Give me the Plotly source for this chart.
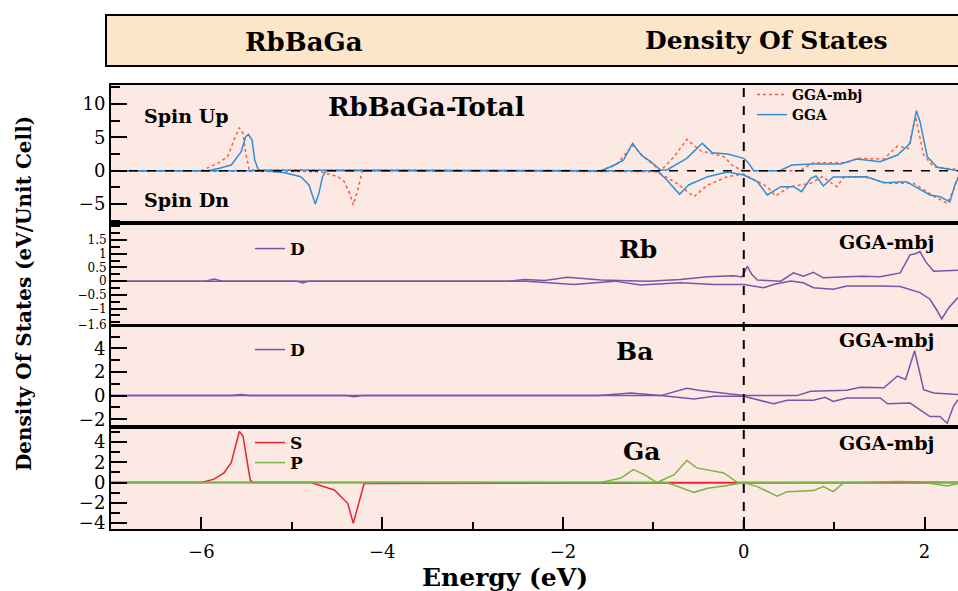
import plotly.graph_objects as go

# ---------------- data ----------------
# Panel 1: total DOS (GGA vs GGA-mbj), spin up (+) and spin down (-)
gga_up_E = [-7.0, -5.93, -5.80, -5.67, -5.56, -5.51, -5.48, -5.44, -5.41, -5.37, -1.58, -1.45, -1.33, -1.23, -1.13,
            -1.03, -0.92, -0.85, -0.75, -0.63, -0.46, -0.35, -0.18, 0.00, 0.05, 0.11, 0.40, 0.53, 0.77, 1.07, 1.25,
            1.51, 1.70, 1.84, 1.91, 1.95, 2.03, 2.14, 2.37]
gga_up = [0, 0, 0.35, 0.85, 2.85, 5.1, 5.45, 4.6, 1.6, 0.1, 0, 0.7, 1.6, 4.1, 2.3,
          1.35, 0.1, 0.1, 0.9, 1.85, 4.1, 2.7, 2.5, 1.85, 1.2, 0, 0, 0.85, 1.0, 1.0, 1.75,
          1.35, 2.35, 4.1, 9.0, 7.35, 2.1, 0.5, 0]

mbj_up_E = [-7.0, -6.00, -5.82, -5.71, -5.64, -5.58, -5.54, -5.51, -5.47, -1.58, -1.40, -1.23, -1.10, -0.97, -0.92,
            -0.77, -0.63, -0.48, -0.22, -0.11, 0.00, 0.62, 0.77, 1.14, 1.25, 1.55, 1.70, 1.82, 1.90, 1.99, 2.10, 2.37]
mbj_up = [0, 0, 1.1, 2.1, 4.6, 6.45, 5.6, 2.6, 0.1, 0, 1.0, 3.8, 2.0, 0.5, 0,
          2.1, 4.7, 3.0, 2.1, 0.6, 0, 0, 1.2, 1.2, 1.85, 1.75, 3.7, 3.3, 8.1, 2.35, 0.6, 0.15]

gga_dn_E = [-7.0, -5.30, -5.08, -4.90, -4.81, -4.74, -4.70, -4.66, -4.62, -0.96, -0.85, -0.71, -0.61, -0.40, -0.18,
            0.00, 0.15, 0.26, 0.41, 0.55, 0.64, 0.74, 0.80, 0.88, 0.99, 1.14, 1.36, 1.55, 1.80, 2.06, 2.17, 2.28,
            2.34, 2.37]
gga_dn = [0, 0, -0.3, -0.9, -2.15, -5.0, -3.4, -0.9, 0, 0, -1.4, -3.55, -2.15, -0.9, -0.2,
          -0.65, -1.65, -3.65, -2.4, -2.4, -3.15, -1.15, -0.8, -2.3, -0.95, -0.9, -0.9, -1.8, -1.65, -3.65, -3.9, -4.7,
          -1.95, -1.2]

mbj_dn_E = [-7.0, -4.68, -4.49, -4.42, -4.36, -4.32, -4.27, -4.24, -4.22, -0.96, -0.74, -0.55, -0.40, -0.18, 0.00,
            0.26, 0.35, 0.51, 0.74, 0.87, 1.03, 1.11, 1.33, 1.59, 1.88, 2.10, 2.25, 2.32, 2.37]
mbj_dn = [0, -0.15, -0.9, -1.65, -3.4, -5.15, -2.9, -0.9, 0, -0.15, -1.9, -3.9, -2.15, -0.9, -0.5,
          -2.4, -3.8, -2.4, -1.9, -0.9, -2.4, -0.95, -0.9, -1.9, -1.9, -3.8, -4.9, -2.9, -0.95]

# Panel 2: Rb d-states
rb_up_E = [-7.0, -5.95, -5.86, -5.77, -2.60, -2.43, -2.20, -1.95, -1.58, -1.06, -0.70, -0.40, -0.11, -0.02, 0.04,
           0.09, 0.15, 0.41, 0.55, 0.66, 0.77, 0.88, 1.14, 1.32, 1.51, 1.73, 1.84, 1.90, 1.95, 2.01, 2.10, 2.37]
rb_up = [0, 0, 0.08, 0, 0, 0.06, 0.02, 0.14, 0.04, 0, 0.06, 0.16, 0.2, 0.15, 0.54,
         0.24, 0.04, 0, 0.3, 0.18, 0.32, 0.12, 0.16, 0.18, 0.16, 0.3, 0.96, 1.0, 1.08, 0.72, 0.36, 0.4]
rb_dn_E = [-7.0, -4.95, -4.88, -4.81, -2.40, -2.20, -1.88, -1.43, -1.14, -0.70, -0.33, 0.00, 0.22, 0.33, 0.52,
           0.66, 0.77, 0.99, 1.14, 1.51, 1.73, 1.95, 2.06, 2.14, 2.19, 2.27, 2.37]
rb_dn = [0, 0, -0.07, 0, 0, -0.04, -0.12, 0, -0.14, -0.06, -0.12, -0.12, -0.24, -0.12, 0,
         -0.06, -0.24, -0.3, -0.18, -0.18, -0.2, -0.42, -0.66, -1.08, -1.38, -0.96, -0.6]

# Panel 3: Ba d-states
ba_up_E = [-7.0, -5.65, -5.56, -5.47, -1.60, -1.25, -0.92, -0.63, -0.48, -0.18, 0.00, 0.59, 0.74, 1.14, 1.29,
           1.55, 1.70, 1.79, 1.89, 1.99, 2.10, 2.37]
ba_up = [0, 0, 0.1, 0, 0, 0.23, 0, 0.63, 0.43, 0.17, 0, 0, 0.37, 0.46, 0.71,
         0.66, 1.66, 1.37, 3.8, 0.51, 0.23, 0.1]
ba_dn_E = [-7.0, -4.40, -4.31, -4.22, -0.92, -0.55, -0.33, 0.00, 0.33, 0.48, 0.77, 0.90, 0.99, 1.14, 1.51,
           1.59, 1.84, 2.06, 2.17, 2.25, 2.32, 2.37]
ba_dn = [0, 0, -0.1, 0, 0, -0.29, -0.06, -0.06, -0.69, -0.4, -0.4, -0.14, -0.49, -0.2, -0.2,
         -0.69, -0.63, -1.77, -1.77, -2.34, -0.91, -0.34]

# Panel 4: Ga s- and p-states
gas_up_E = [-7.0, -6.00, -5.86, -5.75, -5.67, -5.62, -5.58, -5.54, -5.49, -5.46, -5.43, 2.37]
gas_up = [0, 0, 0.34, 0.95, 1.96, 3.64, 5.05, 4.6, 1.96, 0.27, 0, 0]
gas_dn_E = [-7.0, -4.79, -4.53, -4.38, -4.32, -4.25, -4.20, 2.37]
gas_dn = [0, 0, -0.74, -2.08, -4.04, -1.7, -0.1, 0]
gap_up_E = [-7.0, -1.58, -1.36, -1.22, -1.10, -0.96, -0.77, -0.63, -0.52, -0.22, -0.07, 1.30, 1.70, 2.10, 2.37]
gap_up = [0, 0, 0.44, 1.28, 0.78, 0, 0.78, 2.19, 1.45, 0.95, 0, 0, 0.1, 0, 0]
gap_dn_E = [-7.0, -0.85, -0.55, -0.40, -0.18, 0.00, 0.15, 0.37, 0.48, 0.77, 0.88, 0.99, 1.10, 2.06, 2.25, 2.37]
gap_dn = [0, 0, -0.97, -0.57, -0.3, 0, -0.4, -1.35, -0.9, -0.8, -0.4, -0.9, -0.07, -0.07, -0.34, -0.1]

x_ticks = [-6, -4, -2, 0, 2]
rb_tickvals = [1.5, 1, 0.5, 0, -0.5, -1, -1.6]
rb_ticktext = ["1.5", "1", "0.5", "0", "\u22120.5", "\u22121", "\u22121.6"]

# ---------------- styling ----------------
W, H = 958, 591
FONT = "DejaVu Serif, serif"
BG = "#fde9e3"
BLUE = "#2f8fd6"
RED = "#ff5a36"
PURPLE = "#7656a6"
SRED = "#e8242b"
GREEN = "#78b444"

def py(p):  # pixel row -> paper y
    return 1 - p / H

def px(p):
    return p / W

X0 = px(111)
dom1 = [py(223), py(85)]
dom2 = [py(325), py(223)]
dom3 = [py(427), py(326)]
dom4 = [py(529), py(427)]

fig = go.Figure()

def add(x, y, xa, ya, color, name, dash="solid", legend="legend", show=True, group=None):
    fig.add_trace(go.Scatter(x=x, y=y, mode="lines", xaxis=xa, yaxis=ya, name=name,
                             line=dict(color=color, width=1.5, dash=dash),
                             legend=legend, showlegend=show, legendgroup=group or name))

add(mbj_up_E, mbj_up, "x2", "y", RED, "<b>GGA-mbj</b>", dash="dot", legend="legend")
add(mbj_dn_E, mbj_dn, "x2", "y", RED, "<b>GGA-mbj</b>", dash="dot", legend="legend", show=False)
add(gga_up_E, gga_up, "x2", "y", BLUE, "<b>GGA</b>", legend="legend5")
add(gga_dn_E, gga_dn, "x2", "y", BLUE, "<b>GGA</b>", legend="legend5", show=False)

add(rb_up_E, rb_up, "x3", "y2", PURPLE, "<b>D</b>", legend="legend2", group="rb")
add(rb_dn_E, rb_dn, "x3", "y2", PURPLE, "<b>D</b>", legend="legend2", show=False, group="rb")

add(ba_up_E, ba_up, "x4", "y3", PURPLE, "<b>D</b>", legend="legend3", group="ba")
add(ba_dn_E, ba_dn, "x4", "y3", PURPLE, "<b>D</b>", legend="legend3", show=False, group="ba")

add(gas_up_E, gas_up, "x", "y4", SRED, "<b>S</b>", legend="legend4", group="s")
add(gas_dn_E, gas_dn, "x", "y4", SRED, "<b>S</b>", legend="legend4", show=False, group="s")
add(gap_up_E, gap_up, "x", "y4", GREEN, "<b>P</b>", legend="legend6", group="p")
add(gap_dn_E, gap_dn, "x", "y4", GREEN, "<b>P</b>", legend="legend6", show=False, group="p")

tickfont = dict(family=FONT, size=18, color="black")
common_y = dict(showline=True, mirror=True, linecolor="black", linewidth=2, ticks="inside",
                ticklen=16, tickwidth=1.5, tickcolor="black",
                showgrid=False, zeroline=False, fixedrange=True, automargin=False)
common_x_hidden = dict(matches="x", showline=True, mirror=True, linecolor="black", linewidth=2,
                       ticks="", showticklabels=False, showgrid=False, zeroline=False,
                       domain=[X0, 1], automargin=False)

def legend_at(xp, yp, size=17):
    return dict(x=px(xp), y=py(yp), xanchor="left", yanchor="middle", bgcolor="rgba(0,0,0,0)",
                font=dict(family=FONT, size=size, color="black"), tracegroupgap=0)

fig.update_layout(
    width=W, height=H,
    margin=dict(l=0, r=0, t=0, b=0, autoexpand=False),
    paper_bgcolor="white", plot_bgcolor=BG,
    font=dict(family=FONT, color="black"),
    xaxis=dict(domain=[X0, 1], range=[-7.0, 2.37], anchor="y4", showline=True, mirror=True,
               linecolor="black", linewidth=2, ticks="inside", tickvals=x_ticks, ticklen=12,
               tickwidth=2, tickcolor="black", tickfont=tickfont, ticklabelstandoff=5,
               minor=dict(ticks="inside", dtick=1, tick0=0, ticklen=7, tickwidth=2, tickcolor="black"),
               showgrid=False, zeroline=False, automargin=False),
    xaxis2=dict(anchor="y", **common_x_hidden),
    xaxis3=dict(anchor="y2", **common_x_hidden),
    xaxis4=dict(anchor="y3", **common_x_hidden),
    yaxis=dict(domain=dom1, anchor="x2", range=[-7.85, 12.85], tickmode="linear", tick0=0, dtick=5,
               tickfont=tickfont,
               minor=dict(ticks="inside", dtick=2.5, tick0=0, ticklen=9, tickcolor="black"), **common_y),
    yaxis2=dict(domain=dom2, anchor="x3", range=[-1.6, 2.12], tickmode="array", tickvals=rb_tickvals,
                ticktext=rb_ticktext, tickfont=dict(family=FONT, size=12, color="black"),
                minor=dict(ticks="inside", dtick=0.25, tick0=0, ticklen=9, tickcolor="black"), **common_y),
    yaxis3=dict(domain=dom3, anchor="x4", range=[-2.66, 5.9], tickmode="linear", tick0=0, dtick=2,
                tickfont=tickfont,
                minor=dict(ticks="inside", dtick=1, tick0=0, ticklen=9, tickcolor="black"), **common_y),
    yaxis4=dict(domain=dom4, anchor="x", range=[-4.6, 5.5], tickmode="linear", tick0=0, dtick=2,
                tickfont=tickfont,
                minor=dict(ticks="inside", dtick=1, tick0=0, ticklen=9, tickcolor="black"), **common_y),
    legend=legend_at(752, 95, 14),
    legend5=legend_at(752, 115, 14),
    legend2=legend_at(250, 249),
    legend3=legend_at(250, 350),
    legend4=legend_at(250, 443),
    legend6=legend_at(250, 463),
)

# header box
fig.add_shape(type="rect", xref="paper", yref="paper", x0=px(106), x1=1.01, y0=py(66), y1=py(15),
              fillcolor="#fde5c9", line=dict(color="black", width=2), layer="below")
# Fermi level and zero line
fig.add_shape(type="line", xref="x", yref="paper", x0=0, x1=0, y0=dom4[0], y1=dom1[1],
              line=dict(color="black", width=2, dash="dash"))
fig.add_shape(type="line", xref="paper", yref="y", x0=X0, x1=1, y0=0, y1=0,
              line=dict(color="black", width=1.5, dash="dash"))

def note(text, xp, ypix, size, **kw):
    fig.add_annotation(text=f"<b>{text}</b>", xref="paper", yref="paper", x=px(xp), y=py(ypix),
                       showarrow=False, xanchor="center", yanchor="middle",
                       font=dict(family=FONT, size=size, color="black"), **kw)

note("RbBaGa", 304, 42, 26)
note("Density Of States", 766, 40, 25)
note("Spin Up", 186, 116, 19)
note("Spin Dn", 186, 200, 19)
note("RbBaGa-Total", 426, 107, 26)
note("Rb", 638, 249, 25)
note("Ba", 634, 351, 25)
note("Ga", 642, 451, 25)
note("GGA-mbj", 886, 242, 19)
note("GGA-mbj", 886, 340, 19)
note("GGA-mbj", 886, 443, 19)
note("Energy (eV)", 505, 577, 25)
note("Density Of States (eV/Unit Cell)", 24, 294, 20, textangle=-90)

fig.write_html("out.html", config={"displayModeBar": False},
               post_script="document.body.style.margin='0';document.body.style.overflow='hidden';")
